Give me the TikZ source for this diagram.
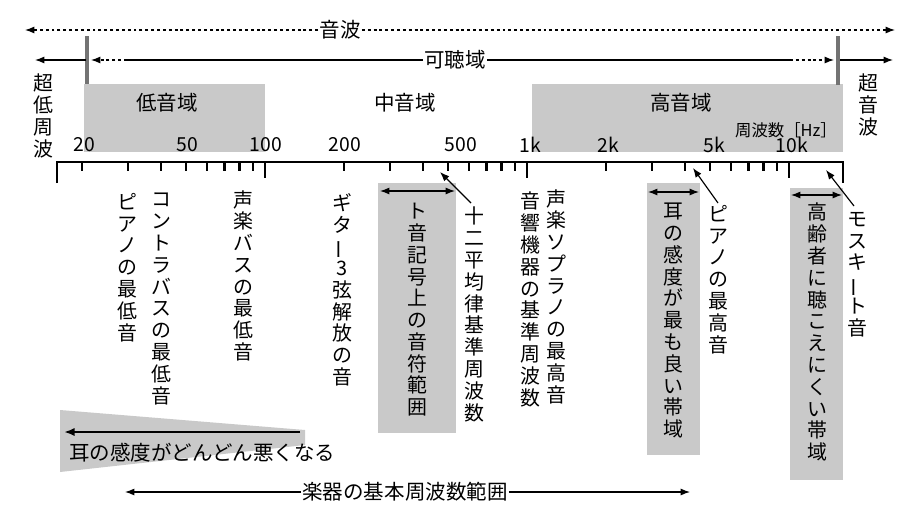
\documentclass[tikz,border=0pt]{standalone}
\usepackage{fontspec}
\setmainfont{Noto Sans CJK JP}
\usetikzlibrary{arrows.meta}
\ExplSyntaxOn
\NewDocumentCommand\vt{m}{\vbox{\baselineskip=18.6pt\lineskiplimit=-20pt\lineskip=0pt
 \tl_map_inline:nn{#1}{\hbox_to_wd:nn{1.1em}{\hss##1\hss}}}}
\ExplSyntaxOff
\newcommand\vb{{\rotatebox[origin=c]{90}{ー}}}
\tikzset{
 lab/.style={font=\fontsize{17.5}{19}\selectfont, inner sep=1pt},
 vlab/.style={font=\fontsize{17}{19}\selectfont, inner sep=0pt, anchor=north},
 num/.style={font=\fontsize{16.5}{18}\selectfont, inner sep=0pt},
 gbox/.style={fill=gray!42, draw=none},
 bar/.style={line width=3.5pt, draw=black!55},
 arr/.style={line width=1pt, -{Latex[length=8pt,width=6pt]}},
 darr/.style={line width=1pt, {Latex[length=8pt,width=6pt]}-{Latex[length=8pt,width=6pt]}},
 dots/.style={line width=1pt, dash pattern=on 2.5pt off 2.5pt},
}
\begin{document}
\begin{tikzpicture}[x=0.03cm,y=-0.03cm]
\useasboundingbox (0,0) rectangle (900,523);
% gray boxes
\fill[gbox] (84,84) rectangle (265,152);
\fill[gbox] (532,84) rectangle (843,152);
\fill[gbox] (378,183) rectangle (456,433);
\fill[gbox] (647,183) rectangle (700,455);
\fill[gbox] (790,188) rectangle (843,480);
\fill[gbox] (60,410) -- (305,430) -- (305,445) -- (60,472) -- cycle;
% top arrows
\node[lab] (sonic) at (340,30) {音波};
\coordinate (sL) at (25,30); \coordinate (sR) at (895,30);
\draw[dots,-{Latex[length=8pt,width=6pt]}] (sonic.west) -- (sL);
\draw[dots,-{Latex[length=8pt,width=6pt]}] (sonic.east) -- (sR);
\node[lab] (aud) at (455,60) {可聴域};
\coordinate (bL) at (87,36); \coordinate (bLb) at (87,84);
\coordinate (bR) at (838,36); \coordinate (bRb) at (838,85);
\draw[bar] (bL) -- (bLb);
\draw[bar] (bR) -- (bRb);
\coordinate (aL1) at (127,60); \coordinate (aR1) at (790,60);
\draw[line width=1pt] (aud.west) -- (aL1);
\draw[dots,-{Latex[length=8pt,width=6pt]}] (aL1) -- (91,60);
\draw[line width=1pt] (aud.east) -- (aR1);
\draw[dots,-{Latex[length=8pt,width=6pt]}] (aR1) -- (834,60);
\coordinate (iL) at (35,60); \coordinate (iR) at (893,60);
\draw[arr] (86,60) -- (iL);
\draw[arr] (840,60) -- (iR);
% region labels
\node[lab] (low) at (167,103) {低音域};
\node[lab] (mid) at (405,103) {中音域};
\node[lab] (high) at (681,103) {高音域};
\node[font=\fontsize{14}{16}\selectfont, inner sep=0pt] (hz) at (786,130) {周波数［Hz］};
\node[vlab] (infra) at (43,74) {\vt{超低周波}};
\node[vlab] (ultra) at (868,74) {\vt{超音波}};
% tick labels
\foreach \t/\xx in {20/84,50/187,100/266,200/345,500/461,1k/530,2k/608,5k/714,10k/792}
  \node[num] (n\t) at (\xx,145) {\t};
% axis
\draw[line width=2pt] (57,183) -- (57,162) -- (843,162) -- (843,183);
\foreach \o in {-2,-1,0}{
  \foreach \m in {2,...,9}{
    \pgfmathsetmacro\xx{527+262*(\o+log10(\m))}
    \draw[line width=2pt] (\xx,162) -- (\xx,171);
  }}
\draw[line width=2pt] (265,162) -- (265,178);
\draw[line width=2pt] (527,162) -- (527,178);
\draw[line width=2pt] (789,162) -- (789,178);
% vertical labels
\node[vlab] (pl) at (127,193) {\vt{ピアノの最低音}};
\node[vlab] (cb) at (161,193) {\vt{コントラバスの最低音}};
\node[vlab] (vb) at (243,190) {\vt{声楽バスの最低音}};
\node[vlab] (gt) at (342,193) {\vt{ギタ{\vb}3弦解放の音}};
\node[vlab] (tc) at (417,203) {\vt{ト音記号上の音符範囲}};
\node[vlab] (et) at (474,207) {\vt{十二平均律基準周波数}};
\node[vlab] (ae) at (530,192) {\vt{音響機器の基準周波数}};
\node[vlab] (sp) at (556,189) {\vt{声楽ソプラノの最高音}};
\node[vlab] (eb) at (673,203) {\vt{耳の感度が最も良い帯域}};
\node[vlab] (ph) at (718,205) {\vt{ピアノの最高音}};
\node[vlab] (el) at (817,203) {\vt{高齢者に聴こえにくい帯域}};
\node[vlab] (mq) at (857,212) {\vt{モスキ{\vb}ト音}};
% range arrows in boxes
\coordinate (t1) at (380,191); \coordinate (t2) at (455,191);
\draw[darr] (t1) -- (t2);
\coordinate (e1) at (648,192); \coordinate (e2) at (699,192);
\draw[darr] (e1) -- (e2);
\coordinate (o1) at (791,195); \coordinate (o2) at (842,195);
\draw[darr] (o1) -- (o2);
% pointer arrows
\coordinate (p1) at (440,172); \coordinate (p2) at (693,168); \coordinate (p3) at (826,170);
\draw[arr] (et.north) ++(-3,-4) -- (p1);
\draw[arr] (ph.north) ++(0,-2) -- (p2);
\draw[arr] (mq.north) ++(-3,-6) -- (p3);
% bottom
\coordinate (wL) at (64,432);
\draw[line width=2pt,-{Latex[length=9pt,width=7pt]}] (300,432) -- (wL);
\node[lab, anchor=west] (worse) at (68,453) {耳の感度がどんどん悪くなる};
\node[lab] (inst) at (405,492) {楽器の基本周波数範囲};
\coordinate (iL2) at (125,492); \coordinate (iR2) at (690,492);
\draw[arr] (inst.west) -- (iL2);
\draw[arr] (inst.east) -- (iR2);
\end{tikzpicture}
\end{document}
